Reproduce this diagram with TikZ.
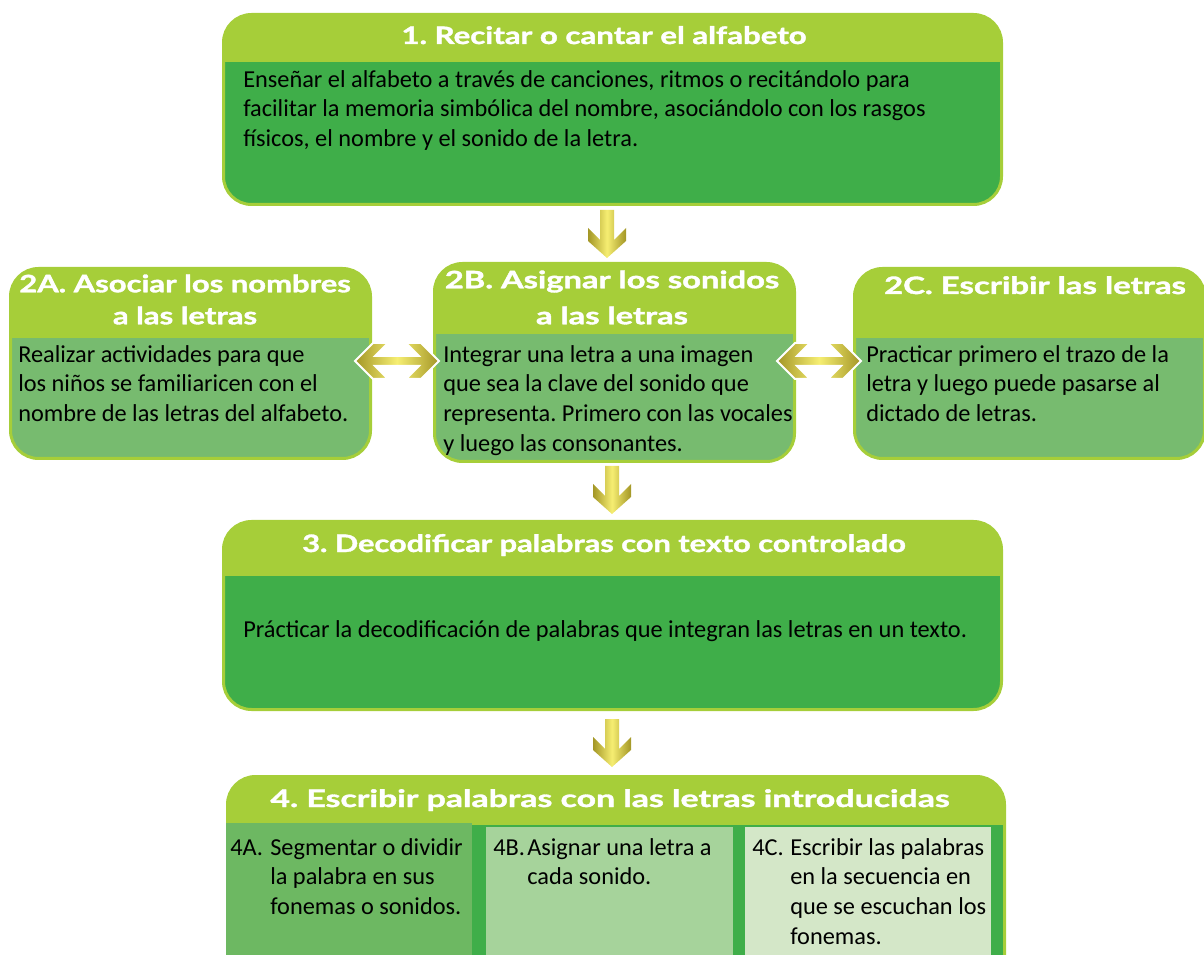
\documentclass[tikz,border=0pt]{standalone}
\usepackage{fontspec}
\setmainfont{Carlito}
\newfontfamily\titlefont{Lato}[BoldFeatures={FakeBold=1.4}]
\usetikzlibrary{calc}
\frenchspacing
\definecolor{lg}{HTML}{A6CE39}
\definecolor{dg}{HTML}{3FAE49}
\definecolor{mg}{HTML}{77BB6F}
\definecolor{cfa}{HTML}{6DB862}
\definecolor{cfb}{HTML}{A6D39B}
\definecolor{cfc}{HTML}{D4E7C8}
\definecolor{goldL}{HTML}{F6EE72}
\definecolor{goldD}{HTML}{A39626}
\newcommand\bst{\rule{0pt}{16pt}}
\newcommand\tst{\rule{0pt}{13.5pt}}
\newcommand\sx[2]{\scalebox{#1}[1]{#2}}
\begin{document}
\begin{tikzpicture}[x=0.75pt,y=-0.75pt,
  box/.style={draw=lg, line width=2.25pt, rounded corners=21pt, inner sep=0pt, anchor=north west},
  hdr/.style={path picture={\fill[lg, sharp corners] (path picture bounding box.north west) rectangle ([yshift=-#1*0.75pt]path picture bounding box.north east);}},
  ttl/.style={text=white, font=\titlefont\bfseries\fontsize{18}{24}\selectfont, align=center, inner sep=0pt},
  body/.style={text=black, font=\fontsize{18.25}{22.2}\selectfont, align=left, inner sep=0pt, anchor=north west},
  sub/.style={inner sep=0pt, anchor=north west},
  gold/.style={left color=goldD, right color=goldD, middle color=goldL},
  darrow/.pic={\shade[gold] (-7,0) -- (7,0) -- (7,30) -- (19,18) -- (19,31) -- (0,48) -- (-19,31) -- (-19,18) -- (-7,30) -- cycle;},
  harrow/.pic={\shade[gold, draw=white, line width=1.5pt] (-42,0) -- (-24,-18) -- (-9,-18) -- (-22,-5) -- (22,-5) -- (9,-18) -- (24,-18) -- (42,0) -- (24,18) -- (9,18) -- (22,5) -- (-22,5) -- (-9,18) -- (-24,18) -- cycle;}
]
\useasboundingbox (0,0) rectangle (1204,955);
\clip (0,0) rectangle (1204,955);

% boxes
\node[box, fill=dg, hdr=48, minimum width=778*0.75pt, minimum height=190*0.75pt] (b1) at (222,13) {};
\node[box, fill=mg, hdr=70, minimum width=360*0.75pt, minimum height=190*0.75pt] (b2a) at (9,267) {};
\node[box, fill=mg, hdr=71, minimum width=360*0.75pt, minimum height=198*0.75pt] (b2b) at (433,262) {};
\node[box, fill=mg, hdr=70, minimum width=350*0.75pt, minimum height=190*0.75pt] (b2c) at (853,267) {};
\node[box, fill=dg, hdr=55, minimum width=778*0.75pt, minimum height=188*0.75pt] (b3) at (222,520) {};
\node[box, fill=dg, hdr=48, minimum width=777*0.75pt, minimum height=215*0.75pt] (b4) at (226,775) {};
\node[sub, fill=cfa, minimum width=246*0.75pt, minimum height=140*0.75pt] (s4a) at (226,823) {};
\node[sub, fill=cfb, minimum width=247*0.75pt, minimum height=140*0.75pt] (s4b) at (486,827) {};
\node[sub, fill=cfc, minimum width=246*0.75pt, minimum height=140*0.75pt] (s4c) at (745,827) {};

% titles
\node[ttl, anchor=base] (t1) at (604,44) {\sx{1.30}{1. Recitar o cantar el alfabeto}};
\node[ttl, anchor=north] (t2a) at (185,274) {\tst\sx{1.29}{2A. Asociar los nombres}\\\sx{1.29}{a las letras}};
\node[ttl, anchor=north, font=\titlefont\bfseries\fontsize{18}{27}\selectfont] (t2b) at (612,270) {\tst\sx{1.36}{2B. Asignar los sonidos}\\\sx{1.36}{a las letras}};
\node[ttl, anchor=base] (t2c) at (1035,294) {\sx{1.37}{2C. Escribir las letras}};
\node[ttl, anchor=base] (t3) at (604,552) {\sx{1.28}{3. Decodificar palabras con texto controlado}};
\node[ttl, anchor=base] (t4) at (610,807) {\sx{1.41}{4. Escribir palabras con las letras introducidas}};

% bodies
\node[body] (d1) at (243,65.7) {\bst Enseñar el alfabeto a través de canciones, ritmos o recitándolo para\\facilitar la memoria simbólica del nombre, asociándolo con los rasgos\\físicos, el nombre y el sonido de la letra.};
\node[body] (d2a) at (18,340.7) {\bst Realizar actividades para que\\los niños se familiaricen con el\\nombre de las letras del alfabeto.};
\node[body] (d2b) at (443,340.7) {\bst Integrar una letra a una imagen\\que sea la clave del sonido que\\representa. Primero con las vocales\\y luego las consonantes.};
\node[body] (d2c) at (866,340.7) {\bst Practicar primero el trazo de la\\letra y luego puede pasarse al\\dictado de letras.};
\node[body] (d3) at (243,615.7) {\bst Prácticar la decodificación de palabras que integran las letras en un texto.};
\node[body] (l4a) at (230,833.7) {\bst 4A.};
\node[body] (d4a) at (270,833.7) {\bst Segmentar o dividir\\la palabra en sus\\fonemas o sonidos.};
\node[body] (l4b) at (493,833.7) {\bst 4B.};
\node[body] (d4b) at (527,833.7) {\bst Asignar una letra a\\cada sonido.};
\node[body] (l4c) at (752,833.7) {\bst 4C.};
\node[body] (d4c) at (790,833.7) {\bst Escribir las palabras\\en la secuencia en\\que se escuchan los\\fonemas.};

% arrows
\pic at (607,210) {darrow};
\pic at (612,466) {darrow};
\pic at (612,719) {darrow};
\pic at (397,361) {harrow};
\pic at (819,361) {harrow};
\end{tikzpicture}
\end{document}
